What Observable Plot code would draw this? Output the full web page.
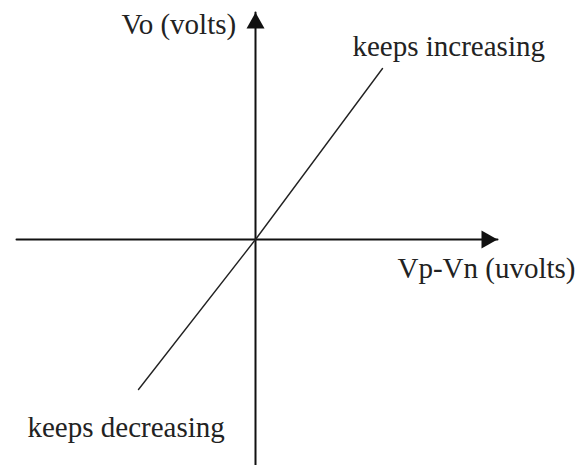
<!DOCTYPE html>
<html>
<head>
<meta charset="utf-8">
<script src="https://cdn.jsdelivr.net/npm/d3@7"></script>
<script src="https://cdn.jsdelivr.net/npm/@observablehq/plot@0.6"></script>
<style>
  html, body { margin: 0; padding: 0; background: #fff; }
</style>
</head>
<body>
<div id="chart"></div>
<script>
// Conceptual transfer characteristic (arbitrary units, origin at 0,0)
const horizAxisX = [-4.78, 4.84];       // Vp-Vn axis extent
const vertAxisY = [-4.7, 4.54];         // Vo axis extent
const curveX = [-2.34, 0, 2.54];        // Vp-Vn
const curveY = [-3.0, 0, 3.42];         // Vo
const labelText = ["Vo (volts)", "keeps increasing", "Vp-Vn (uvolts)", "keeps decreasing"];
const labelX = [-2.68, 1.94, 2.84, -4.56];
const labelY = [4.12, 3.68, -0.76, -3.94];
const arrowX = [0, 4.84];
const arrowY = [4.54, 0];
const arrowRotate = [0, 90];

const arrowHead = {
  draw(context) {
    const w = 18, h = 16;
    context.moveTo(0, 0);
    context.lineTo(-w / 2, h);
    context.lineTo(w / 2, h);
    context.closePath();
  }
};

const hAxis = horizAxisX.map(x => ({x, y: 0}));
const vAxis = vertAxisY.map(y => ({x: 0, y}));
const curve = curveX.map((x, i) => ({x, y: curveY[i]}));
const labels = labelText.map((t, i) => ({t, x: labelX[i], y: labelY[i]}));
const arrows = arrowX.map((x, i) => ({x, y: arrowY[i], r: arrowRotate[i]}));

const chart = Plot.plot({
  width: 577,
  height: 465,
  margin: 0,
  x: {domain: [-5.1, 6.44], axis: null},
  y: {domain: [-4.52, 4.78], axis: null},
  style: {background: "#fff", fontFamily: "Liberation Serif, serif"},
  marks: [
    Plot.line(hAxis, {x: "x", y: "y", stroke: "#111", strokeWidth: 2}),
    Plot.line(vAxis, {x: "x", y: "y", stroke: "#111", strokeWidth: 2}),
    Plot.line(curve, {x: "x", y: "y", stroke: "#222", strokeWidth: 1.4}),
    Plot.dot(arrows, {x: "x", y: "y", rotate: "r", symbol: arrowHead, r: 1, fill: "#111", stroke: "none"}),
    Plot.text(labels, {x: "x", y: "y", text: "t", textAnchor: "start", lineAnchor: "bottom",
      fontSize: 29, fill: "#222", fontFamily: "Liberation Serif, serif"})
  ]
});
document.getElementById("chart").append(chart);
</script>
</body>
</html>
